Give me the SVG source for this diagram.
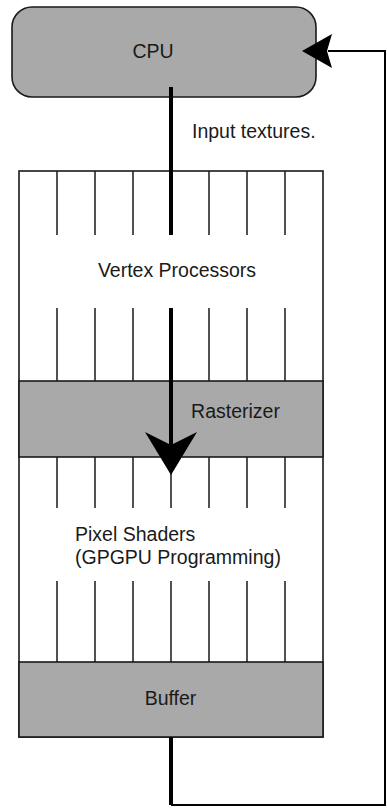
<svg xmlns="http://www.w3.org/2000/svg" width="387" height="808" viewBox="0 0 387 808">
<style>
.box{fill:#a9a9a9;stroke:#1a1a1a;stroke-width:1.6}
.panel{fill:#ffffff;stroke:#1a1a1a;stroke-width:1.6}
.grid{stroke:#1a1a1a;stroke-width:1.5;fill:none}
.lbl{font-family:"Liberation Sans","Open Sans",sans-serif;font-size:19.5px;fill:#1a1a1a}
.mid{text-anchor:middle}
.thick{stroke:#000;stroke-width:4;fill:none}
.thin{stroke:#000;stroke-width:2;fill:none}
.head{fill:#000;stroke:none}
</style>
<rect width="387" height="808" fill="#ffffff"/>
<g id="cpu">
<rect class="box" x="12" y="7" width="304" height="90" rx="20" ry="20"/>
<text class="lbl mid" x="153" y="58">CPU</text>
</g>
<g id="gpu">
<rect class="panel" x="19" y="171" width="304" height="566"/>
<g id="vertex-processors">
<path class="grid" d="M57 171V235M95 171V235M133 171V235M171 171V235M209 171V235M247 171V235M285 171V235M57 308V381M95 308V381M133 308V381M171 308V381M209 308V381M247 308V381M285 308V381"/>
<text class="lbl mid" x="177" y="277">Vertex Processors</text>
</g>
<g id="rasterizer">
<rect class="box" x="19" y="381" width="304" height="76"/>
<text class="lbl mid" x="235.5" y="418">Rasterizer</text>
</g>
<g id="pixel-shaders">
<path class="grid" d="M57 457V508M95 457V508M133 457V508M171 457V508M209 457V508M247 457V508M285 457V508M57 581V662M95 581V662M133 581V662M171 581V662M209 581V662M247 581V662M285 581V662"/>
<text class="lbl" x="75" y="541">Pixel Shaders</text>
<text class="lbl" x="75" y="563.5">(GPGPU Programming)</text>
</g>
<g id="buffer">
<rect class="box" x="19" y="662" width="304" height="75"/>
<text class="lbl mid" x="170.5" y="705">Buffer</text>
</g>
</g>
<g id="connectors">
<path class="thick" d="M171 87V235"/>
<text class="lbl" x="192" y="138">Input textures.</text>
<path class="thick" d="M171 308V446"/>
<path class="head" d="M171 475L145 432L171 445L197 432Z"/>
<path class="thick" d="M171 737V805"/>
<path class="thin" d="M171 805H385V51H328"/>
<path class="head" d="M302 51L332 34L327 51L332 68Z"/>
</g>
</svg>
